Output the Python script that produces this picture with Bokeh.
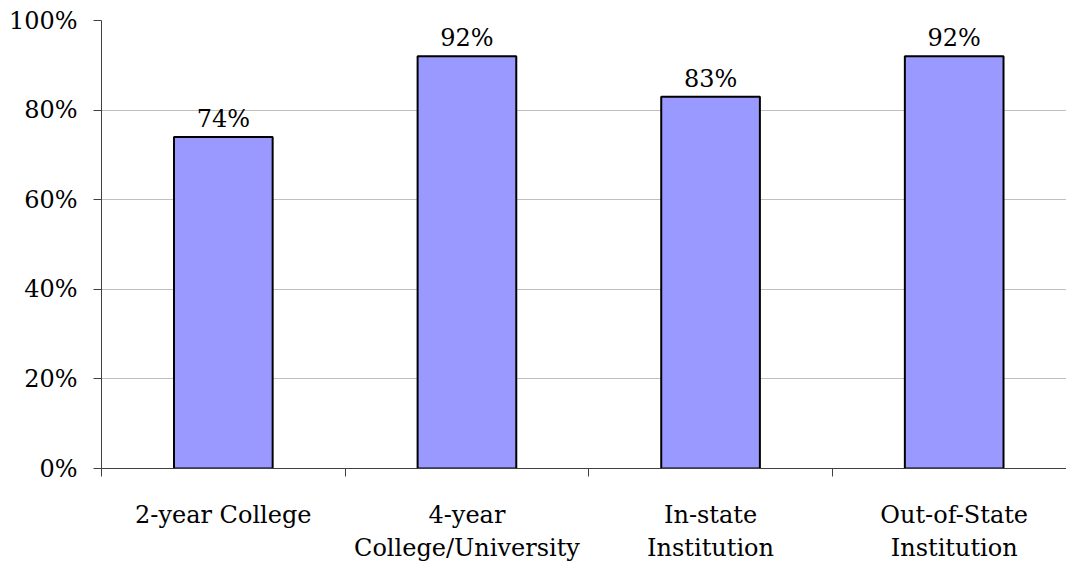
from bokeh.plotting import figure
from bokeh.models import Range1d, FixedTicker, ColumnDataSource
from bokeh.core.properties import value
from bokeh.embed import file_html
from bokeh.resources import INLINE

categories = ["2-year College", "4-year\nCollege/University", "In-state\nInstitution", "Out-of-State\nInstitution"]
values = [0.74, 0.92, 0.83, 0.92]
value_labels = ["74%", "92%", "83%", "92%"]
y_ticks = [0, 0.2, 0.4, 0.6, 0.8, 1.0]
y_tick_labels = ["0%", "20%", "40%", "60%", "80%", "100%"]

FONT = "DejaVu Serif"
FSIZE = "24px"
centers = [i + 0.5 for i in range(len(categories))]

p = figure(width=1066, height=567, output_backend="svg", toolbar_location=None,
           x_range=Range1d(0, 3.961), y_range=Range1d(0, 1))
p.min_border_left = 101
p.min_border_top = 20
p.min_border_right = 0
p.min_border_bottom = 99
p.outline_line_color = None
p.background_fill_color = "white"
p.border_fill_color = "white"

src = ColumnDataSource(dict(x=centers, top=values, lab=value_labels))
p.vbar(x="x", top="top", bottom=0, width=0.405, source=src,
       fill_color="#9999FF", line_color="black", line_width=2)
p.text(x="x", y="top", text="lab", source=src, text_align="center",
       text_baseline="bottom", y_offset=-4, text_font=value(FONT),
       text_font_size=FSIZE, text_color="black")

p.xgrid.visible = False
p.ygrid.grid_line_color = "#c0c0c0"
p.ygrid.ticker = FixedTicker(ticks=y_ticks)

xa = p.xaxis[0]
xa.ticker = FixedTicker(ticks=centers, minor_ticks=[0, 1, 2, 3])
xa.major_label_overrides = {c: lab for c, lab in zip(centers, categories)}
xa.major_tick_out = 0
xa.major_tick_in = 0
xa.minor_tick_out = 8
xa.minor_tick_in = 0
xa.minor_tick_line_color = "#404040"
xa.axis_line_color = "#404040"
xa.major_label_standoff = 24
xa.major_label_text_font = FONT
xa.major_label_text_font_size = FSIZE
xa.major_label_text_color = "black"

ya = p.yaxis[0]
ya.ticker = FixedTicker(ticks=y_ticks)
ya.major_label_overrides = {t: l for t, l in zip(y_ticks, y_tick_labels)}
ya.major_tick_out = 8
ya.major_tick_in = 0
ya.minor_tick_line_color = None
ya.axis_line_color = "#404040"
ya.major_tick_line_color = "#404040"
ya.major_label_standoff = 16
ya.major_label_text_font = FONT
ya.major_label_text_font_size = FSIZE
ya.major_label_text_color = "black"

open("out.html", "w").write(file_html(p, INLINE))
